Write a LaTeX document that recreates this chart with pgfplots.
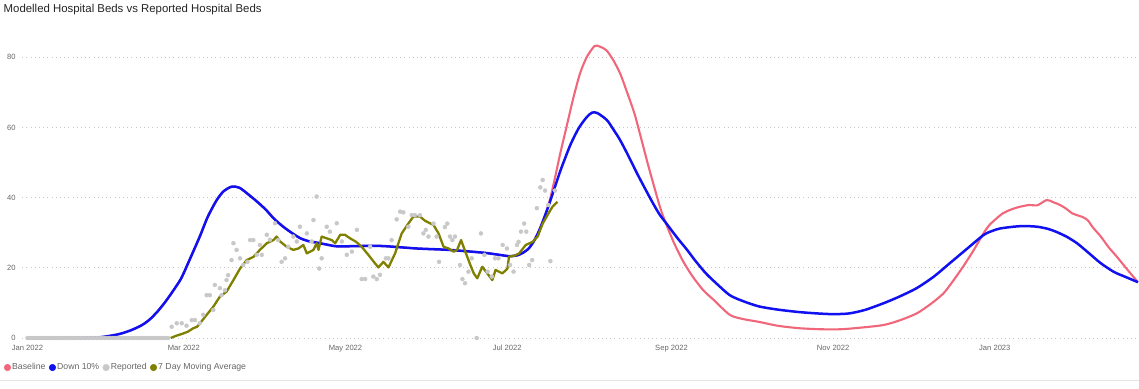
\documentclass[border=0pt]{standalone}
\usepackage{pgfplots}
\pgfplotsset{compat=1.18}
\usepackage{fontspec}
\setmainfont{Liberation Sans}
\definecolor{cbase}{RGB}{240,102,122}
\definecolor{cdown}{RGB}{16,16,240}
\definecolor{crep}{RGB}{200,200,200}
\definecolor{cma}{RGB}{128,128,0}
\definecolor{ctick}{RGB}{102,102,102}
\definecolor{cgrid}{RGB}{200,200,200}
\definecolor{ctitle}{RGB}{37,36,35}
\begin{document}
\begin{tikzpicture}[x=1pt,y=1pt]
\useasboundingbox (0,0) rectangle (1139,388);
\draw[color={rgb,255:red,229;green,229;blue,229}, line width=0.8pt] (0,7.5) -- (1139,7.5);
\node[anchor=base west, inner sep=0pt, text=ctitle, font=\fontsize{11.4}{13}\selectfont] at (3.5,375.3) {Modelled Hospital Beds vs Reported Hospital Beds};
\begin{axis}[
  at={(22.2pt,50pt)}, anchor=south west,
  scale only axis, width=1115.7pt, height=315.9pt,
  xmin=-2, xmax=419, ymin=0, ymax=90,
  clip=false,
  axis line style={draw=none},
  major tick length=0pt,
  tick style={draw=none},
  xtick={0,59,120,181,243,304,365},
  xticklabels={Jan 2022,Mar 2022,May 2022,Jul 2022,Sep 2022,Nov 2022,Jan 2023},
  ytick={0,20,40,60,80},
  ymajorgrids,
  grid style={cgrid, line width=0.8pt, dash pattern=on 0.8pt off 3.4pt},
  /pgf/number format/assume math mode=true,
  ticklabel style={font=\fontsize{7.6}{9}\selectfont, text=ctick},
  xticklabel style={yshift=-3.5pt},
  yticklabel style={xshift=-3pt},
  legend columns=4,
  legend image code/.code={\fill[#1] (3.3pt,0pt) circle (3.3pt);},
  legend style={at={(rel axis cs:-0.0165,-0.0935)}, anchor=west, draw=none, fill=none,
    inner sep=0pt, font=\fontsize{8.7}{10}\selectfont, text=ctick,
    nodes={inner sep=1.2pt},
    /tikz/every even column/.append style={column sep=2.2pt}},
]
% Baseline
\addplot[forget plot, color=cbase, line width=2.1pt, line join=round, smooth, tension=0.45] coordinates {
(0,0)(10,0)(20,0.05)(27,0.2)(31,0.6)(35,1.2)(39,2.2)(43,3.6)(46,5.2)(49,7.5)(52,10.3)(55,13.5)(58,17)(61,22)(65,28.9)(68,34.5)(71.4,39.3)(74,41.8)(77,43.1)(80,42.8)(84,40.5)(87,38.6)(90,36.5)(93,34)(96.5,31.7)(100,29.8)(103,28.4)(106,27.6)(109,27.2)(113,26.6)(117,26.1)(125,26.2)(134,26.2)(147,25.5)(159,25.1)(172,24.3)(178,23.7)(182,23.3)(185,23.6)(187,24.3)(189,25.4)(191,27.5)(193,30.5)(195,34.3)(197,39)(199,45.5)(201,52.5)(203.5,60.5)(206,68.5)(208.5,75.4)(211,80)(214,83.2)(216,83)(218.4,82)(221,79.2)(223.6,75.4)(226,70.5)(229,64)(231.5,57)(234,49.8)(236.5,43)(239,36.5)(241.5,31.5)(244,27)(247.5,21.7)(251,17.5)(255,13.6)(259,10.8)(265,6.6)(270,5.4)(276,4.6)(283,3.5)(291,2.8)(299,2.5)(307,2.5)(315,3)(323,3.7)(329,5)(335.5,7)(341,9.8)(345.6,12.7)(349,16)(353,20.3)(357,25)(360.7,29.8)(363,32.2)(365.7,34.1)(368,35.5)(370.8,36.5)(374,37.3)(378,37.9)(381,37.8)(384.6,39.3)(387,38.7)(389.6,37.9)(392,36.8)(394,35.6)(396,35)(398,34.5)(400,33.6)(402,31.5)(405,28.9)(408,25.8)(411,23.2)(415,19.5)(419,15.9)
};
% Down 10%
\addplot[forget plot, color=cdown, line width=2.5pt, line join=round, smooth, tension=0.45] coordinates {
(0,0)(10,0)(20,0.05)(27,0.2)(31,0.6)(35,1.2)(39,2.2)(43,3.6)(46,5.2)(49,7.5)(52,10.3)(55,13.5)(58,17)(61,22)(65,28.9)(68,34.5)(71.4,39.3)(74,41.8)(77,43.1)(80,42.8)(84,40.5)(87,38.6)(90,36.5)(93,34)(96.5,31.7)(100,29.8)(103,28.4)(106,27.6)(109,27.2)(113,26.6)(117,26.1)(125,26.2)(134,26.2)(147,25.5)(159,25.1)(172,24.3)(178,23.7)(182,23.3)(185,23.6)(187,24.3)(189,25.4)(191,27.5)(193,30.5)(195,34.3)(197,38.5)(199,43)(201,47.5)(203,51.5)(205,55.3)(208,59.8)(211,62.9)(213,64.2)(215,64.1)(218.6,62.1)(221,59.5)(223.6,56.4)(227,51.5)(230,46.9)(233,42.6)(236,38.4)(238.5,35.2)(241,32.7)(245,28.7)(249,25)(252,22)(256,18.4)(260,15.5)(265,12.2)(270,10.5)(276,9)(283,8.1)(291,7.4)(298,7)(304,6.8)(310,7)(316,8)(323,9.9)(329,11.8)(335.5,14.2)(342,17.5)(348,21.3)(354,25.1)(360.7,29.3)(364,30.5)(367,31.2)(372,31.7)(376,31.9)(381,31.7)(385,31.1)(388,30.3)(392,28.9)(396,27)(400,24.5)(405,21.3)(410,18.8)(414,17.5)(419,15.9)
};
% Reported
\addplot[forget plot, only marks, mark=*, mark size=2.0pt, color=crep] coordinates {
(0,0)(1,0)(2,0)(3,0)(4,0)(5,0)(6,0)(7,0)(8,0)(9,0)(10,0)(11,0)(12,0)(13,0)(14,0)(15,0)(16,0)(17,0)(18,0)(19,0)(20,0)(21,0)(22,0)(23,0)(24,0)(25,0)(26,0)(27,0)(28,0)(29,0)(30,0)(31,0)(32,0)(33,0)(34,0)(35,0)(36,0)(37,0)(38,0)(39,0)(40,0)(41,0)(42,0)(43,0)(44,0)(45,0)(46,0)(47,0)(48,0)(49,0)(50,0)(51,0)(52,0)(53,0)
(54.4,3.2)(56.3,4.2)(58.2,4.2)(60,3.5)(62,5.1)(63.2,5.1)(65,4.2)(66.3,6.6)(67.6,12.2)(68.8,12.2)(70.1,8)(70.7,15.1)(72.6,14.2)(73.2,12.2)(74.5,13.6)(75.1,16.5)(75.7,17.9)(77,22.2)(77.7,27)(78.9,25.1)(80.2,22.7)(81.4,20.8)(83,21.7)(84,27.9)(85.2,27.9)(86.5,23.7)(87.7,26.5)(88.4,23.7)(90.3,29.4)(91.5,28)(93.4,32.7)(94.6,27.9)(95.9,21.7)(97.2,22.7)(98.4,26)(100.3,28.9)(101.6,27.5)(102.8,31.7)(105.4,29.8)(107.2,27.5)(107.9,33.6)(109.1,40.3)(110.1,19.8)(111,22.7)(112.9,31.7)(114.1,30.3)(116.7,32.7)(118.6,27.5)(120.5,23.7)(122.4,24.6)(124.3,30.8)(126.1,16.8)(127.4,16.8)(129.3,26)(130.5,17.5)(131.8,16.8)(133,18)(135.2,22.7)(136.2,22.7)(137.4,27.9)(139.3,33.8)(140.6,36)(141.8,35.8)(143.7,31.7)(145,35)(146.2,35)(148.1,35)(149.4,29.8)(150.3,30.8)(151.3,28.9)(153.2,32.6)(154.4,28.9)(155.3,21.7)(157.5,31.6)(158.4,32.6)(159.4,28.9)(160.3,27.9)(161.3,28.9)(163.2,20.8)(164.1,16.8)(165.1,15.6)(166.4,18.9)(167.6,22.7)(169.5,0)(171.1,29.8)(172.4,23.7)(173.6,18.9)(175.2,17.5)(176.4,22.7)(177.7,22.7)(179.3,26.5)(180.9,25.5)(182.1,20.8)(183.4,18.9)(184.7,26.5)(185.3,27.4)(186.2,30.3)(187.4,32.6)(188.2,30.3)(189.3,20.8)(190.4,22.2)(192.2,37)(193.5,42.9)(194.4,45)(195.3,42)(196.5,37.9)(197.3,21.9)(199,42)
};
% 7 Day Moving Average
\addplot[forget plot, color=cma, line width=2.3pt, line join=round] coordinates {
(54,0)(56,0.6)(58.8,1.3)(60.5,1.8)(62.6,2.8)(64,3.2)(65.1,4.2)(67.6,6.6)(70.1,8.9)(72.6,11.8)(75.1,13.2)(77.7,16.5)(80.2,19.8)(82.7,22.2)(85.2,23.1)(87.7,25.1)(90.3,27)(92.8,27.9)(94,28.9)(95.3,27.5)(97.8,26)(100.3,25.1)(102.2,25.5)(104.1,26.5)(105.4,24.1)(107.9,25.1)(109.1,27)(109.8,25.1)(111,28.9)(112.9,28.4)(114.8,27.9)(116.1,27)(118,29.4)(119.8,29.4)(121.7,28.4)(124,27.4)(126.1,26)(128.6,23.7)(131.1,21.3)(132.4,20.1)(134.3,21.7)(136.2,20.1)(138.7,24.1)(141.2,29.8)(143.7,32.6)(145.6,34.6)(148.1,34.6)(150,33.4)(153.2,32.2)(155.1,29.8)(157,26)(158.9,25.5)(160.8,24.6)(162.1,25.1)(163.6,27.9)(165.2,24.6)(167.1,20.8)(168.4,18.4)(169.7,17)(171.6,20.3)(173.5,18.4)(175.4,16.5)(176.6,19.4)(179.2,18.4)(181.1,19.8)(181.7,23.2)(183.6,23.4)(185.5,24.1)(188,26.5)(190.6,27.4)(192.5,28.9)(194.4,32.6)(196.9,35.9)(198.1,37.4)(200,38.8)
};
\addlegendimage{cbase}\addlegendentry{Baseline}
\addlegendimage{cdown}\addlegendentry{Down 10\%}
\addlegendimage{crep}\addlegendentry{Reported}
\addlegendimage{cma}\addlegendentry{7 Day Moving Average}
\end{axis}
\end{tikzpicture}
\end{document}
